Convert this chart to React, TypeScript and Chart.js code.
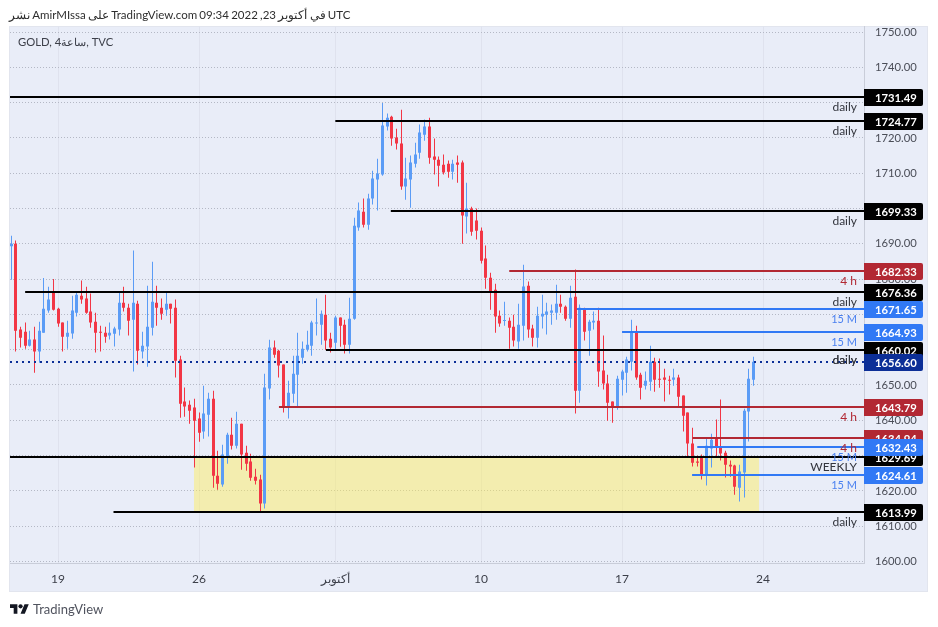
import { useEffect, useRef } from "react";
import { Chart, registerables } from "chart.js";

Chart.register(...registerables);

// 4h candles, left to right, one entry per bar
const opens = [
  1689.3, 1690.0, 1665.7, 1665.1, 1661.1, 1662.9, 1659.5, 1664.8, 1671.1, 1676.2,
  1671.6, 1667.7, 1663.7, 1664.6, 1670.5, 1675.3, 1674.5, 1670.8, 1667.9, 1665.1,
  1664.8, 1664.0, 1664.5, 1665.7, 1673.3, 1671.9, 1668.5, 1673.0, 1659.5, 1660.9,
  1666.2, 1673.3, 1671.9, 1671.3, 1673.0, 1671.9, 1657.2, 1645.3, 1644.4, 1643.6,
  1640.5, 1636.8, 1641.6, 1646.1, 1624.3, 1621.8, 1629.7, 1635.9, 1632.8, 1639.0,
  1630.8, 1628.3, 1624.0, 1623.2, 1616.4, 1649.0, 1660.6, 1659.7, 1655.8, 1643.6,
  1647.5, 1652.9, 1657.7, 1660.0, 1661.1, 1667.4, 1667.1, 1669.9, 1663.1, 1662.0,
  1669.1, 1667.1, 1661.4, 1668.8, 1694.6, 1699.1, 1695.4, 1702.8, 1708.2, 1709.6,
  1723.2, 1726.0, 1720.1, 1718.4, 1706.2, 1708.2, 1712.7, 1715.8, 1720.9, 1723.2,
  1714.7, 1713.8, 1712.4, 1712.7, 1710.4, 1713.0, 1713.0, 1697.7, 1700.0, 1696.6,
  1693.7, 1685.8, 1680.4, 1677.0, 1669.6, 1668.1, 1668.2, 1666.5, 1662.3, 1666.8,
  1678.1, 1666.0, 1663.4, 1669.4, 1669.9, 1670.5, 1670.5, 1673.0, 1672.2, 1668.8,
  1675.0, 1648.4, 1671.3, 1665.4, 1667.7, 1668.2, 1654.1, 1650.4, 1645.3, 1643.9,
  1651.5, 1653.5, 1656.6, 1664.8, 1652.9, 1649.8, 1650.9, 1656.6, 1651.8, 1652.1,
  1651.5, 1651.5, 1652.1, 1647.0, 1642.2, 1633.4, 1628.3, 1629.7, 1624.3, 1632.0,
  1634.8, 1632.5, 1630.8, 1627.4, 1627.2, 1620.9, 1625.2, 1642.5, 1651.5,
];
const highs = [
  1692.3, 1690.9, 1666.5, 1667.7, 1665.4, 1666.5, 1667.9, 1680.3, 1677.8, 1680.0,
  1671.9, 1667.7, 1668.2, 1675.3, 1676.2, 1679.6, 1677.8, 1675.9, 1670.5, 1666.8,
  1666.5, 1667.7, 1666.5, 1676.4, 1677.8, 1673.0, 1688.1, 1673.9, 1665.1, 1678.1,
  1684.9, 1678.1, 1674.5, 1676.2, 1673.0, 1674.2, 1658.3, 1649.3, 1645.6, 1646.1,
  1642.2, 1649.8, 1647.8, 1648.4, 1631.4, 1633.1, 1636.5, 1640.7, 1642.4, 1639.0,
  1632.8, 1630.5, 1626.3, 1624.6, 1653.2, 1662.8, 1662.6, 1660.0, 1655.8, 1651.2,
  1658.3, 1664.8, 1662.3, 1665.4, 1668.2, 1674.5, 1671.1, 1675.6, 1664.8, 1669.6,
  1669.1, 1668.5, 1674.7, 1697.4, 1701.7, 1702.8, 1704.2, 1710.7, 1714.1, 1729.9,
  1726.9, 1726.3, 1722.6, 1728.0, 1714.4, 1715.0, 1718.6, 1723.8, 1725.2, 1725.7,
  1719.8, 1714.7, 1715.3, 1713.6, 1713.8, 1715.0, 1713.6, 1707.3, 1700.5, 1700.0,
  1694.6, 1689.5, 1681.8, 1678.7, 1671.1, 1673.6, 1669.1, 1669.9, 1673.0, 1684.1,
  1679.3, 1667.1, 1672.2, 1675.6, 1673.3, 1672.8, 1678.4, 1675.6, 1672.5, 1678.1,
  1682.7, 1672.8, 1671.9, 1668.5, 1670.8, 1671.9, 1664.0, 1652.9, 1645.3, 1652.6,
  1654.3, 1658.0, 1668.5, 1666.8, 1653.5, 1653.8, 1661.1, 1657.7, 1657.5, 1654.6,
  1652.6, 1654.6, 1652.9, 1647.0, 1642.2, 1637.9, 1630.0, 1630.3, 1635.1, 1636.2,
  1640.2, 1645.9, 1631.4, 1628.6, 1627.4, 1627.4, 1643.3, 1654.6, 1658.0,
];
const lows = [
  1679.8, 1659.5, 1660.6, 1660.3, 1660.9, 1653.5, 1656.3, 1664.8, 1670.5, 1671.1,
  1666.5, 1659.5, 1660.3, 1663.1, 1669.4, 1673.0, 1670.2, 1666.2, 1659.2, 1659.5,
  1662.0, 1662.9, 1660.9, 1664.0, 1670.8, 1664.0, 1653.8, 1655.8, 1657.5, 1655.2,
  1664.0, 1666.8, 1668.5, 1669.6, 1667.4, 1652.1, 1640.7, 1641.0, 1639.0, 1626.6,
  1633.9, 1634.8, 1635.4, 1620.9, 1620.3, 1621.2, 1627.7, 1631.7, 1632.0, 1626.0,
  1625.7, 1622.9, 1621.8, 1614.1, 1615.0, 1645.9, 1657.7, 1652.1, 1642.2, 1640.5,
  1645.0, 1643.5, 1656.0, 1659.5, 1658.3, 1664.0, 1661.4, 1660.0, 1659.2, 1660.0,
  1660.8, 1658.9, 1658.9, 1668.5, 1693.7, 1694.6, 1694.0, 1701.1, 1699.4, 1709.3,
  1722.1, 1717.8, 1716.7, 1705.3, 1702.5, 1700.2, 1711.6, 1714.1, 1719.2, 1712.7,
  1709.6, 1706.2, 1709.6, 1708.7, 1708.2, 1707.3, 1690.0, 1692.9, 1692.3, 1691.2,
  1684.4, 1677.3, 1671.3, 1664.8, 1666.5, 1666.8, 1660.3, 1660.9, 1660.3, 1662.6,
  1663.4, 1660.9, 1660.6, 1666.0, 1664.3, 1667.1, 1668.5, 1670.5, 1668.2, 1666.2,
  1641.9, 1645.0, 1662.6, 1658.3, 1665.7, 1649.5, 1648.7, 1639.9, 1639.3, 1643.0,
  1647.0, 1647.8, 1654.1, 1651.5, 1645.9, 1648.7, 1648.4, 1648.1, 1649.2, 1645.3,
  1647.3, 1649.8, 1643.9, 1636.8, 1629.7, 1626.9, 1626.9, 1623.2, 1621.5, 1626.6,
  1629.7, 1628.6, 1623.8, 1624.0, 1618.9, 1617.0, 1618.1, 1634.0, 1649.8,
];
const closes = [
  1690.0, 1665.4, 1663.4, 1661.1, 1662.9, 1659.5, 1665.4, 1671.6, 1674.2, 1671.3,
  1667.4, 1663.7, 1664.8, 1671.1, 1675.6, 1674.2, 1670.5, 1667.7, 1664.8, 1664.8,
  1663.7, 1664.8, 1666.0, 1673.3, 1671.9, 1668.2, 1673.3, 1659.7, 1661.1, 1666.5,
  1673.6, 1671.9, 1670.2, 1673.0, 1671.6, 1656.9, 1644.7, 1643.9, 1642.7, 1639.9,
  1636.5, 1641.9, 1646.1, 1624.3, 1622.0, 1630.3, 1635.9, 1632.8, 1639.0, 1630.3,
  1627.7, 1623.7, 1622.9, 1616.4, 1649.3, 1660.6, 1658.6, 1655.5, 1643.9, 1647.8,
  1653.2, 1658.3, 1660.3, 1661.4, 1667.7, 1667.7, 1670.2, 1662.6, 1660.6, 1669.1,
  1666.8, 1661.4, 1668.8, 1695.1, 1699.4, 1695.4, 1702.8, 1708.5, 1709.9, 1723.5,
  1725.7, 1719.8, 1718.4, 1706.2, 1708.5, 1713.0, 1715.3, 1721.5, 1723.2, 1714.4,
  1713.8, 1712.1, 1710.2, 1710.4, 1712.7, 1712.4, 1698.0, 1700.0, 1693.4, 1693.7,
  1685.2, 1680.4, 1676.4, 1669.4, 1667.4, 1668.4, 1666.2, 1662.6, 1667.1, 1677.9,
  1665.7, 1663.4, 1669.6, 1670.2, 1670.8, 1671.1, 1673.0, 1672.2, 1668.8, 1674.7,
  1648.4, 1671.9, 1665.1, 1667.9, 1668.2, 1653.8, 1650.4, 1645.0, 1643.9, 1651.8,
  1653.8, 1657.2, 1665.1, 1652.1, 1649.2, 1651.2, 1656.6, 1651.5, 1651.5, 1651.5,
  1651.2, 1652.1, 1646.7, 1641.3, 1633.4, 1628.0, 1628.0, 1624.3, 1632.8, 1634.5,
  1632.3, 1630.6, 1627.4, 1626.9, 1621.2, 1625.5, 1642.7, 1651.8, 1656.6,
];

// horizontal levels the author drew
const levelPrices = [1731.49, 1724.77, 1699.33, 1682.33, 1676.36, 1671.65, 1664.93, 1660.02, 1643.79, 1634.94, 1632.43, 1629.69, 1624.61, 1613.99];
const levelStarts = [-0.22, 69, 80.8, 106, 3, 120.4, 130, 67, 57, 145, 146, -0.22, 144.9, 21.8];
const levelLabels = ["daily", "daily", "daily", "4 h", "daily", "15 M", "15 M", "daily", "4 h", "4 h", "15 M", "WEEKLY", "15 M", "daily"];

const lastPrice = 1656.6;
const lastPriceLabel = "daily";

const zoneStart = 38.9;
const zoneEnd = 159.2;
const zoneTop = 1629.69;
const zoneBottom = 1613.99;

const priceTicks = [1750, 1740, 1730, 1720, 1710, 1700, 1690, 1680, 1670, 1660, 1650, 1640, 1630, 1620, 1610, 1600];
const timeTicks = [10, 40, 69, 100, 130, 160];
const timeLabels = ["19", "26", "أكتوبر", "10", "17", "24"];

const xMin = -0.223;
const xMax = 181.48;
const yMin = 1599.43;
const yMax = 1751.56;

const UP = "#5b9cf6";
const DOWN = "#f23645";
const BLACK = "#000000";
const RED = "#b22833";
const BLUE = "#3179f5";
const NAVY = "#0c2f97";
const FONT = "Lato, 'Liberation Sans', sans-serif";

const colorFor = (label: string) => (label === "4 h" ? RED : label === "15 M" ? BLUE : BLACK);
const textColorFor = (label: string) => (label === "4 h" ? RED : label === "15 M" ? "#4a80f0" : "#33353d");

const candleColors = opens.map((o, i) => (closes[i] >= o ? UP : DOWN));

// panel behind everything
const panelPlugin = {
  id: "panel",
  beforeDraw(chart: any) {
    const { ctx } = chart;
    ctx.save();
    ctx.fillStyle = "#e9edf8";
    ctx.fillRect(9, 26, 919, 566);
    ctx.strokeStyle = "#e2e5ee";
    ctx.strokeRect(9.5, 26.5, 918, 565);
    ctx.restore();
  },
};

// TradingView snaps everything to whole pixels, so do the same
const snapPlugin = {
  id: "snap",
  beforeDatasetsDraw(chart: any) {
    chart.getSortedVisibleDatasetMetas().forEach((meta: any) => {
      meta.data.forEach((el: any) => {
        if (meta.type === "bar") el.x = Math.floor(el.x) + 0.5;
        else el.y = Math.round(el.y);
      });
    });
  },
};

// level captions and the price tags on the axis
const tagsPlugin = {
  id: "tags",
  afterDraw(chart: any) {
    const { ctx, scales } = chart;
    const y = scales.y;
    const right = chart.chartArea.right;
    ctx.save();
    ctx.textBaseline = "middle";

    ctx.textAlign = "right";
    levelPrices.forEach((price, i) => {
      ctx.font = `${levelLabels[i] === "15 M" ? 11 : 12}px ${FONT}`;
      ctx.fillStyle = textColorFor(levelLabels[i]);
      ctx.fillText(levelLabels[i], right - 7, Math.round(y.getPixelForValue(price)) + 10);
    });
    ctx.font = `12px ${FONT}`;
    ctx.fillStyle = "#33353d";
    ctx.fillText(lastPriceLabel, right - 7, Math.round(y.getPixelForValue(lastPrice)) - 2);

    const tag = (price: number, color: string) => {
      const py = Math.round(y.getPixelForValue(price));
      ctx.fillStyle = color;
      ctx.beginPath();
      ctx.roundRect(right, py - 8, 59, 17, [0, 2, 2, 0]);
      ctx.fill();
      ctx.fillStyle = "#ffffff";
      ctx.textAlign = "left";
      ctx.font = `bold 11.25px ${FONT}`;
      ctx.fillText(price.toFixed(2), right + 11, py + 1);
    };
    [BLACK, RED, BLUE].forEach((color) => {
      levelPrices.forEach((price, i) => {
        if (colorFor(levelLabels[i]) === color) tag(price, color);
      });
    });
    tag(lastPrice, NAVY);
    ctx.restore();
  },
};

export default function App() {
  const canvasRef = useRef<HTMLCanvasElement>(null);

  useEffect(() => {
    if (!canvasRef.current) return;

    const levelSets = levelPrices.map((price, i) => ({
      type: "line" as const,
      data: [
        { x: levelStarts[i], y: price },
        { x: xMax, y: price },
      ],
      borderColor: colorFor(levelLabels[i]),
      borderWidth: 2,
      pointRadius: 0,
      order: 1,
    }));

    const chart = new Chart(canvasRef.current, {
      type: "bar",
      data: {
        datasets: [
          {
            type: "line",
            data: [
              { x: zoneStart, y: zoneTop },
              { x: zoneEnd, y: zoneTop },
            ],
            borderWidth: 0,
            pointRadius: 0,
            backgroundColor: "rgba(255, 238, 86, 0.45)",
            fill: { value: zoneBottom },
            order: 10,
          },
          {
            data: lows.map((low, i) => ({ x: i, y: [low, highs[i]] })),
            backgroundColor: candleColors,
            barThickness: 1,
            grouped: false,
            inflateAmount: 0,
            order: 5,
          },
          {
            data: opens.map((open, i) => ({ x: i, y: [open, closes[i]] })),
            backgroundColor: candleColors,
            barThickness: 3,
            grouped: false,
            inflateAmount: 0,
            order: 4,
          },
          ...levelSets,
          {
            type: "line",
            data: [
              { x: xMin, y: lastPrice },
              { x: xMax, y: lastPrice },
            ],
            borderColor: NAVY,
            borderWidth: 2,
            borderDash: [2, 4],
            pointRadius: 0,
            order: 1,
          },
        ] as any,
      },
      options: {
        animation: false,
        responsive: false,
        events: [],
        layout: { padding: { left: 10, top: 26.5, right: 10, bottom: 34.5 } },
        plugins: { legend: { display: false }, tooltip: { enabled: false } },
        scales: {
          x: {
            type: "linear",
            min: xMin,
            max: xMax,
            offset: false,
            afterBuildTicks: (scale: any) => {
              scale.ticks = timeTicks.map((value) => ({ value }));
            },
            afterFit: (scale: any) => {
              scale.height = 29;
            },
            grid: { color: "#dfe2ee", offset: false, drawTicks: false },
            border: { color: "#c9cdd9" },
            ticks: {
              autoSkip: false,
              maxRotation: 0,
              padding: 8,
              color: "#3c3f49",
              font: { family: FONT, size: 12 },
              callback: (_v: any, i: number) => timeLabels[i],
            },
          },
          y: {
            position: "right",
            min: yMin,
            max: yMax,
            afterBuildTicks: (scale: any) => {
              scale.ticks = priceTicks.map((value) => ({ value }));
            },
            afterFit: (scale: any) => {
              scale.width = 64;
            },
            grid: { color: "#b4b8c5", drawTicks: false },
            border: { color: "#c9cdd9", dash: [1, 2] },
            ticks: {
              autoSkip: false,
              padding: 11,
              color: "#4a4d57",
              font: { family: FONT, size: 11.25 },
              callback: (v: any) => Number(v).toFixed(2),
            },
          },
        },
      },
      plugins: [panelPlugin, snapPlugin, tagsPlugin],
    });

    return () => chart.destroy();
  }, []);

  return (
    <div style={{ position: "absolute", left: 0, top: 0, width: 938, height: 627, background: "#ffffff", overflow: "hidden" }}>
      <canvas ref={canvasRef} width={938} height={627} style={{ position: "absolute", left: 0, top: 0 }} />
      <div dir="ltr" style={{ position: "absolute", left: 9, top: 7, fontFamily: FONT, fontSize: 11.5, wordSpacing: -0.7, lineHeight: "16px", color: "#2e2e2e", whiteSpace: "nowrap" }}>
        نشر AmirMIssa على TradingView.com 09:34 2022 ,23 في أكتوبر UTC
      </div>
      <div dir="ltr" style={{ position: "absolute", left: 18, top: 34, fontFamily: FONT, fontSize: 11.25, lineHeight: "16px", color: "#3c3f49", whiteSpace: "nowrap" }}>
        GOLD, 4ساعة, TVC
      </div>
      <svg viewBox="0 4 36 18" width={19} height={10} style={{ position: "absolute", left: 10, top: 604 }}>
        <path fill="#131722" d="M14 22H7V11H0V4h14v18zM28 22h-8l7.5-18h8L28 22z" />
        <circle fill="#131722" cx="20" cy="8" r="4" />
      </svg>
      <div style={{ position: "absolute", left: 33, top: 601, fontFamily: FONT, fontSize: 13, lineHeight: "16px", color: "#50535e", whiteSpace: "nowrap" }}>
        TradingView
      </div>
    </div>
  );
}
